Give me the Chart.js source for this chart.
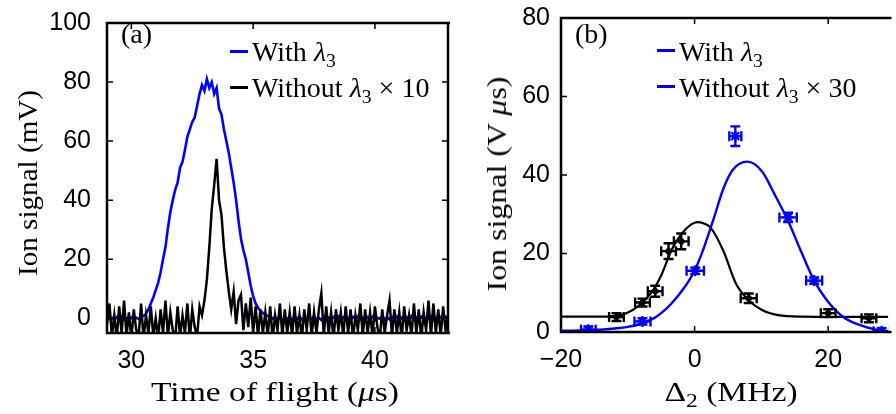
<!DOCTYPE html>
<html lang="en">
<head>
<meta charset="UTF-8">
<title>Ion signal vs time of flight and detuning</title>
<script src="https://cdn.jsdelivr.net/npm/chart.js@4"></script>
<style>
  body { margin: 0; background: #fff; }
  #wrap { position: relative; width: 896px; height: 414px; overflow: hidden; font-family: "Liberation Serif", serif; color: #000; }
  canvas { position: absolute; top: 0; }
  .txt { position: absolute; white-space: nowrap; font-size: 28px; line-height: 28px; }
  .sw { position: absolute; width: 18px; height: 3px; }
  .title { position: absolute; white-space: nowrap; font-size: 28px; line-height: 28px; transform: translate(-50%, -50%) scaleX(1.2); }
  sub { font-size: 70%; vertical-align: -0.3em; line-height: 0; }
</style>
</head>
<body>
<div id="wrap">
  <canvas id="chartA" width="450" height="414" style="left:0"></canvas>
  <canvas id="chartB" width="446" height="414" style="left:450px"></canvas>

  <div class="txt" style="left:121px;top:20px">(a)</div>
  <div class="sw" style="left:230px;top:50px;background:#0000ff"></div>
  <div class="txt" style="left:252px;top:38px">With <i>λ</i><sub>3</sub></div>
  <div class="sw" style="left:230px;top:86px;background:#000"></div>
  <div class="txt" style="left:252px;top:74px">Without <i>λ</i><sub>3</sub> × 10</div>
  <div class="title" style="left:28px;top:183px;transform:translate(-50%, -50%) rotate(-90deg) scaleX(1.04)">Ion signal (mV)</div>
  <div class="title" style="left:275px;top:392px">Time of flight (<i>μ</i>s)</div>

  <div class="txt" style="left:575px;top:20px">(b)</div>
  <div class="sw" style="left:657px;top:49px;background:#0000ff"></div>
  <div class="txt" style="left:679px;top:38px">With <i>λ</i><sub>3</sub></div>
  <div class="sw" style="left:657px;top:85px;background:#0000ff"></div>
  <div class="txt" style="left:679px;top:74px">Without <i>λ</i><sub>3</sub> × 30</div>
  <div class="title" style="left:497px;top:184px;transform:translate(-50%, -50%) rotate(-90deg) scaleX(1.14)">Ion signal (V <i>μ</i>s)</div>
  <div class="title" style="left:731px;top:392px">Δ<sub>2</sub> (MHz)</div>
</div>

<script>
// (a) time of flight traces, sampled every 0.1 us
const tofTimes = [
  29.0, 29.1, 29.2, 29.3, 29.4, 29.5, 29.6, 29.7, 29.8, 29.9,
  30.0, 30.1, 30.2, 30.3, 30.4, 30.5, 30.6, 30.7, 30.8, 30.9,
  31.0, 31.1, 31.2, 31.3, 31.4, 31.5, 31.6, 31.7, 31.8, 31.9,
  32.0, 32.1, 32.2, 32.3, 32.4, 32.5, 32.6, 32.7, 32.8, 32.9,
  33.0, 33.1, 33.2, 33.3, 33.4, 33.5, 33.6, 33.7, 33.8, 33.9,
  34.0, 34.1, 34.2, 34.3, 34.4, 34.5, 34.6, 34.7, 34.8, 34.9,
  35.0, 35.1, 35.2, 35.3, 35.4, 35.5, 35.6, 35.7, 35.8, 35.9,
  36.0, 36.1, 36.2, 36.3, 36.4, 36.5, 36.6, 36.7, 36.8, 36.9,
  37.0, 37.1, 37.2, 37.3, 37.4, 37.5, 37.6, 37.7, 37.8, 37.9,
  38.0, 38.1, 38.2, 38.3, 38.4, 38.5, 38.6, 38.7, 38.8, 38.9,
  39.0, 39.1, 39.2, 39.3, 39.4, 39.5, 39.6, 39.7, 39.8, 39.9,
  40.0, 40.1, 40.2, 40.3, 40.4, 40.5, 40.6, 40.7, 40.8, 40.9,
  41.0, 41.1, 41.2, 41.3, 41.4, 41.5, 41.6, 41.7, 41.8, 41.9,
  42.0, 42.1, 42.2, 42.3, 42.4, 42.5, 42.6, 42.7, 42.8, 42.9,
  43.0
];
const withL3Signal = [
  0.5, -0.3, 0.2, -0.6, 0.4, -0.2, 0.6, -0.5, 0.1, -0.4,
  0.3, -0.6, 0.2, -0.3, 0.5, 0.8, 1.5, 3, 5, 7,
  9.5, 12, 15.5, 20, 24, 30.5, 36, 40, 43.5, 46,
  51, 53, 57, 61.5, 64, 66.5, 68, 72, 76, 79,
  77, 81, 78, 80, 76, 78, 71, 69, 64, 60,
  56, 51, 46, 40, 33, 27, 23, 20, 15.5, 11,
  7.5, 5, 3.5, 2.5, 1.8, 1.2, 0.8, 0.4, -0.2, 0.6,
  -0.5, 0.1, -0.7, 0.3, -0.4, 0.5, -0.6, 0.2, -0.3, 0.7,
  -0.5, 0.0, -0.8, 0.4, -0.2, 0.6, -0.4, 0.1, -0.6, 0.5,
  -0.3, 0.2, -0.7, 0.4, -0.1, 0.6, -0.5, 0.3, -0.4, 0.1,
  -0.6, 0.5, -0.2, 0.7, -0.4, 0.2, -0.5, 0.4, -0.3, 0.6,
  -0.6, 0.1, -0.2, 0.8, -0.5, 0.3, -0.4, 0.5, -0.1, 0.6,
  -0.7, 0.2, -0.3, 0.4, -0.5, 0.7, -0.2, 0.3, -0.6, 0.5,
  -0.4, 0.1, -0.3, 0.6, -0.5, 0.2, -0.4, 0.4, -0.2, 0.5,
  -0.3
];
const withoutL3Signal = [
  -2, 5, -6, 1, -7, 4, -5, 6, -6, 2,
  -7, 3, -4, -6, 5, -7, 1, -5, 4, -6,
  0, -7, 3, -5, 6, -6, 2, -4, -7, 4,
  -6, 1, -5, 5, -7, 3, -3, -6, 4, 1,
  6, 13, 24, 37, 45, 54, 40, 35, 24, 16,
  9, 3, 9, -2, 6, 8, -4, 5, -3, 7,
  -5, 4, -6, 3, -5, 2, -6, 4, -7, 1,
  -4, 5, -6, 3, -5, 2, -6, 4, -5, 1,
  -7, 3, -4, 5, -6, 2, -5, 3, 8.5, -6,
  4, -5, 2, -7, 3, -4, 2, -6, 4, -5,
  3, -7, 1, -4, 5, -6, 3, -5, 2, -6,
  4, -3, -7, 3, -5, 1, 6, -6, 3, -5,
  2, -7, 4, -4, 1, -6, 5, -5, 3, -7,
  2, -4, 6, -6, 5, -5, 3, -6, 4, -4,
  1
];
const tofTicks = [30, 35, 40];
const signalTicksA = [0, 20, 40, 60, 80, 100];

// (b) integrated signal vs detuning: fitted curves
const detuneFitWith = [-20, -15, -12, -10, -8, -6, -5, -3.5, -1.5, 0, 1.4, 2.9, 4.3, 5.7, 7.9, 10.1, 12, 14, 15.9, 17.9, 19.8, 22.2, 24.7, 27.1, 29];
const fitWith = [0.3, 0.5, 0.9, 1.3, 2.1, 3.6, 4.8, 7.2, 11.4, 15.6, 21.5, 29.1, 36.5, 41.3, 43.4, 40.9, 35, 28.3, 20.7, 13.1, 8.1, 3.9, 1.8, 0.6, 0.2];
const detuneFitWithout = [-20, -15, -12.7, -10.3, -8.3, -6.4, -4.9, -3.5, -2.0, -0.5, 0.4, 1.3, 2.4, 4.3, 6.2, 8.1, 10.1, 12.5, 16.4, 20, 29];
const fitWithout = [3.9, 3.9, 4.0, 4.7, 6.8, 10.2, 14.8, 20.7, 24.9, 27.4, 28.0, 27.7, 26.6, 20.7, 12.3, 8.1, 5.6, 4.3, 3.9, 3.85, 3.85];

// (b) measured points with error bars
const detuneWith = [-15.9, -7.8, 0.1, 6.1, 14.0, 17.9, 28.0];
const signalWith = [0.6, 2.7, 15.6, 49.9, 29.2, 13.1, 0.2];
const errDetuneWith = [1.1, 1.2, 1.3, 0.9, 1.3, 1.2, 1.2];
const errSignalWith = [0.8, 0.8, 0.8, 2.5, 1.2, 0.8, 0.8];

const detuneWithout = [-11.7, -7.8, -5.9, -3.9, -2.0, 8.1, 20.0, 26.1];
const signalWithout = [3.8, 7.5, 10.4, 20.6, 23.1, 8.6, 4.8, 3.5];
const errDetuneWithout = [1.1, 1.1, 1.1, 1.1, 1.1, 1.2, 1.1, 1.1];
const errSignalWithout = [1.0, 1.0, 1.4, 2.0, 2.0, 1.2, 1.0, 1.0];

const detuneTicks = [-20, 0, 20];
const signalTicksB = [0, 20, 40, 60, 80];

const BLUE = '#0000ff';
const tickFont = { family: '"Liberation Sans", Arial, sans-serif', size: 25 };

const toXY = (xs, ys) => xs.map((v, i) => ({ x: v, y: ys[i] }));
const fixedTicks = list => scale => { scale.ticks = list.map(v => ({ value: v })); };
const minusSign = v => (v < 0 ? '\u2212' + Math.abs(v) : String(v));

// box and inward tick marks, like the matlab axes
const framePlugin = {
  id: 'frame',
  afterDraw(chart, args, opts) {
    const { ctx, chartArea: a, scales: { x, y } } = chart;
    const sides = opts.sides || [];
    ctx.save();
    ctx.strokeStyle = '#000';
    ctx.lineWidth = 1.5;
    ctx.beginPath();
    x.ticks.forEach(t => {
      const px = x.getPixelForValue(t.value);
      ctx.moveTo(px, a.bottom); ctx.lineTo(px, a.bottom - 6);
      ctx.moveTo(px, a.top); ctx.lineTo(px, a.top + 6);
    });
    y.ticks.forEach(t => {
      const py = y.getPixelForValue(t.value);
      ctx.moveTo(a.left, py); ctx.lineTo(a.left + 6, py);
      if (sides.includes('right')) { ctx.moveTo(a.right, py); ctx.lineTo(a.right - 6, py); }
    });
    ctx.stroke();
    ctx.lineWidth = 2.5;
    ctx.lineCap = 'square';
    ctx.beginPath();
    if (sides.includes('top')) { ctx.moveTo(a.left, a.top); ctx.lineTo(a.right + 2, a.top); }
    if (sides.includes('right')) { ctx.moveTo(a.right, a.top); ctx.lineTo(a.right, a.bottom); }
    if (sides.includes('bottom')) { ctx.moveTo(a.left, a.bottom); ctx.lineTo(a.right + 2, a.bottom); }
    if (sides.includes('left')) { ctx.moveTo(a.left, a.top); ctx.lineTo(a.left, a.bottom); }
    ctx.stroke();
    ctx.restore();
  }
};

// error bars with caps, read from errX / errY on the dataset
const errorBarPlugin = {
  id: 'errorBars',
  afterDatasetsDraw(chart) {
    const { ctx, chartArea: a, scales: { x, y } } = chart;
    ctx.save();
    ctx.beginPath();
    ctx.rect(a.left, a.top, a.right - a.left, a.bottom - a.top);
    ctx.clip();
    chart.data.datasets.forEach(ds => {
      if (!ds.errX) return;
      ctx.strokeStyle = ds.borderColor;
      ctx.lineWidth = 2.4;
      ctx.beginPath();
      ds.data.forEach((p, j) => {
        const px = x.getPixelForValue(p.x), py = y.getPixelForValue(p.y);
        const x0 = x.getPixelForValue(p.x - ds.errX[j]), x1 = x.getPixelForValue(p.x + ds.errX[j]);
        const y0 = y.getPixelForValue(p.y - ds.errY[j]), y1 = y.getPixelForValue(p.y + ds.errY[j]);
        const c = 5;
        ctx.moveTo(x0, py); ctx.lineTo(x1, py);
        ctx.moveTo(x0, py - c); ctx.lineTo(x0, py + c);
        ctx.moveTo(x1, py - c); ctx.lineTo(x1, py + c);
        ctx.moveTo(px, y0); ctx.lineTo(px, y1);
        ctx.moveTo(px - c, y0); ctx.lineTo(px + c, y0);
        ctx.moveTo(px - c, y1); ctx.lineTo(px + c, y1);
      });
      ctx.stroke();
    });
    ctx.restore();
  }
};

function baseOptions(cfg) {
  return {
    responsive: false,
    animation: false,
    events: [],
    layout: { padding: cfg.padding },
    plugins: { legend: { display: false }, tooltip: { enabled: false }, frame: { sides: cfg.sides } },
    scales: {
      x: {
        type: 'linear', min: cfg.xMin, max: cfg.xMax,
        grid: { display: false }, border: { display: false },
        afterBuildTicks: fixedTicks(cfg.xTicks),
        afterFit: s => { s.height = cfg.xHeight; },
        ticks: { font: tickFont, color: '#000', padding: 5, maxRotation: 0, callback: minusSign }
      },
      y: {
        type: 'linear', min: cfg.yMin, max: cfg.yMax,
        grid: { display: false }, border: { display: false },
        afterBuildTicks: fixedTicks(cfg.yTicks),
        afterFit: s => { s.width = cfg.yWidth; },
        ticks: { font: tickFont, color: '#000', padding: cfg.yPad }
      }
    }
  };
}

new Chart(document.getElementById('chartA'), {
  type: 'line',
  data: {
    datasets: [
      { label: 'Without λ3 × 10', data: toXY(tofTimes, withoutL3Signal), borderColor: '#000', borderWidth: 2.5, pointRadius: 0, tension: 0 },
      { label: 'With λ3', data: toXY(tofTimes, withL3Signal), borderColor: BLUE, borderWidth: 2.6, pointRadius: 0, tension: 0 }
    ]
  },
  options: baseOptions({
    padding: { top: 15, right: 2, left: 0, bottom: 0 },
    sides: ['top', 'right', 'bottom', 'left'],
    xMin: 29, xMax: 43, xTicks: tofTicks, xHeight: 81,
    yMin: -5, yMax: 100, yTicks: signalTicksA, yWidth: 107, yPad: 8
  }),
  plugins: [framePlugin]
});

new Chart(document.getElementById('chartB'), {
  type: 'line',
  data: {
    datasets: [
      { label: 'Without λ3 × 30 points', data: toXY(detuneWithout, signalWithout), errX: errDetuneWithout, errY: errSignalWithout,
        showLine: false, borderColor: '#000', backgroundColor: '#000', pointStyle: 'rectRot', pointRadius: 4, borderWidth: 1 },
      { label: 'With λ3 points', data: toXY(detuneWith, signalWith), errX: errDetuneWith, errY: errSignalWith,
        showLine: false, borderColor: BLUE, backgroundColor: BLUE, pointStyle: 'star', pointRadius: 5.5, borderWidth: 2.2 },
      { label: 'With λ3 fit', data: toXY(detuneFitWith, fitWith), borderColor: BLUE, borderWidth: 2.4, pointRadius: 0, cubicInterpolationMode: 'monotone' },
      { label: 'Without λ3 fit', data: toXY(detuneFitWithout, fitWithout), borderColor: '#000', borderWidth: 2.2, pointRadius: 0, cubicInterpolationMode: 'monotone' }
    ]
  },
  options: baseOptions({
    padding: { top: 15, right: 0, left: 0, bottom: 0 },
    sides: ['top', 'bottom', 'left'],
    xMin: -20, xMax: 29, xTicks: detuneTicks, xHeight: 82,
    yMin: 0, yMax: 80, yTicks: signalTicksB, yWidth: 111, yPad: 3
  }),
  plugins: [framePlugin, errorBarPlugin]
});
</script>
</body>
</html>
